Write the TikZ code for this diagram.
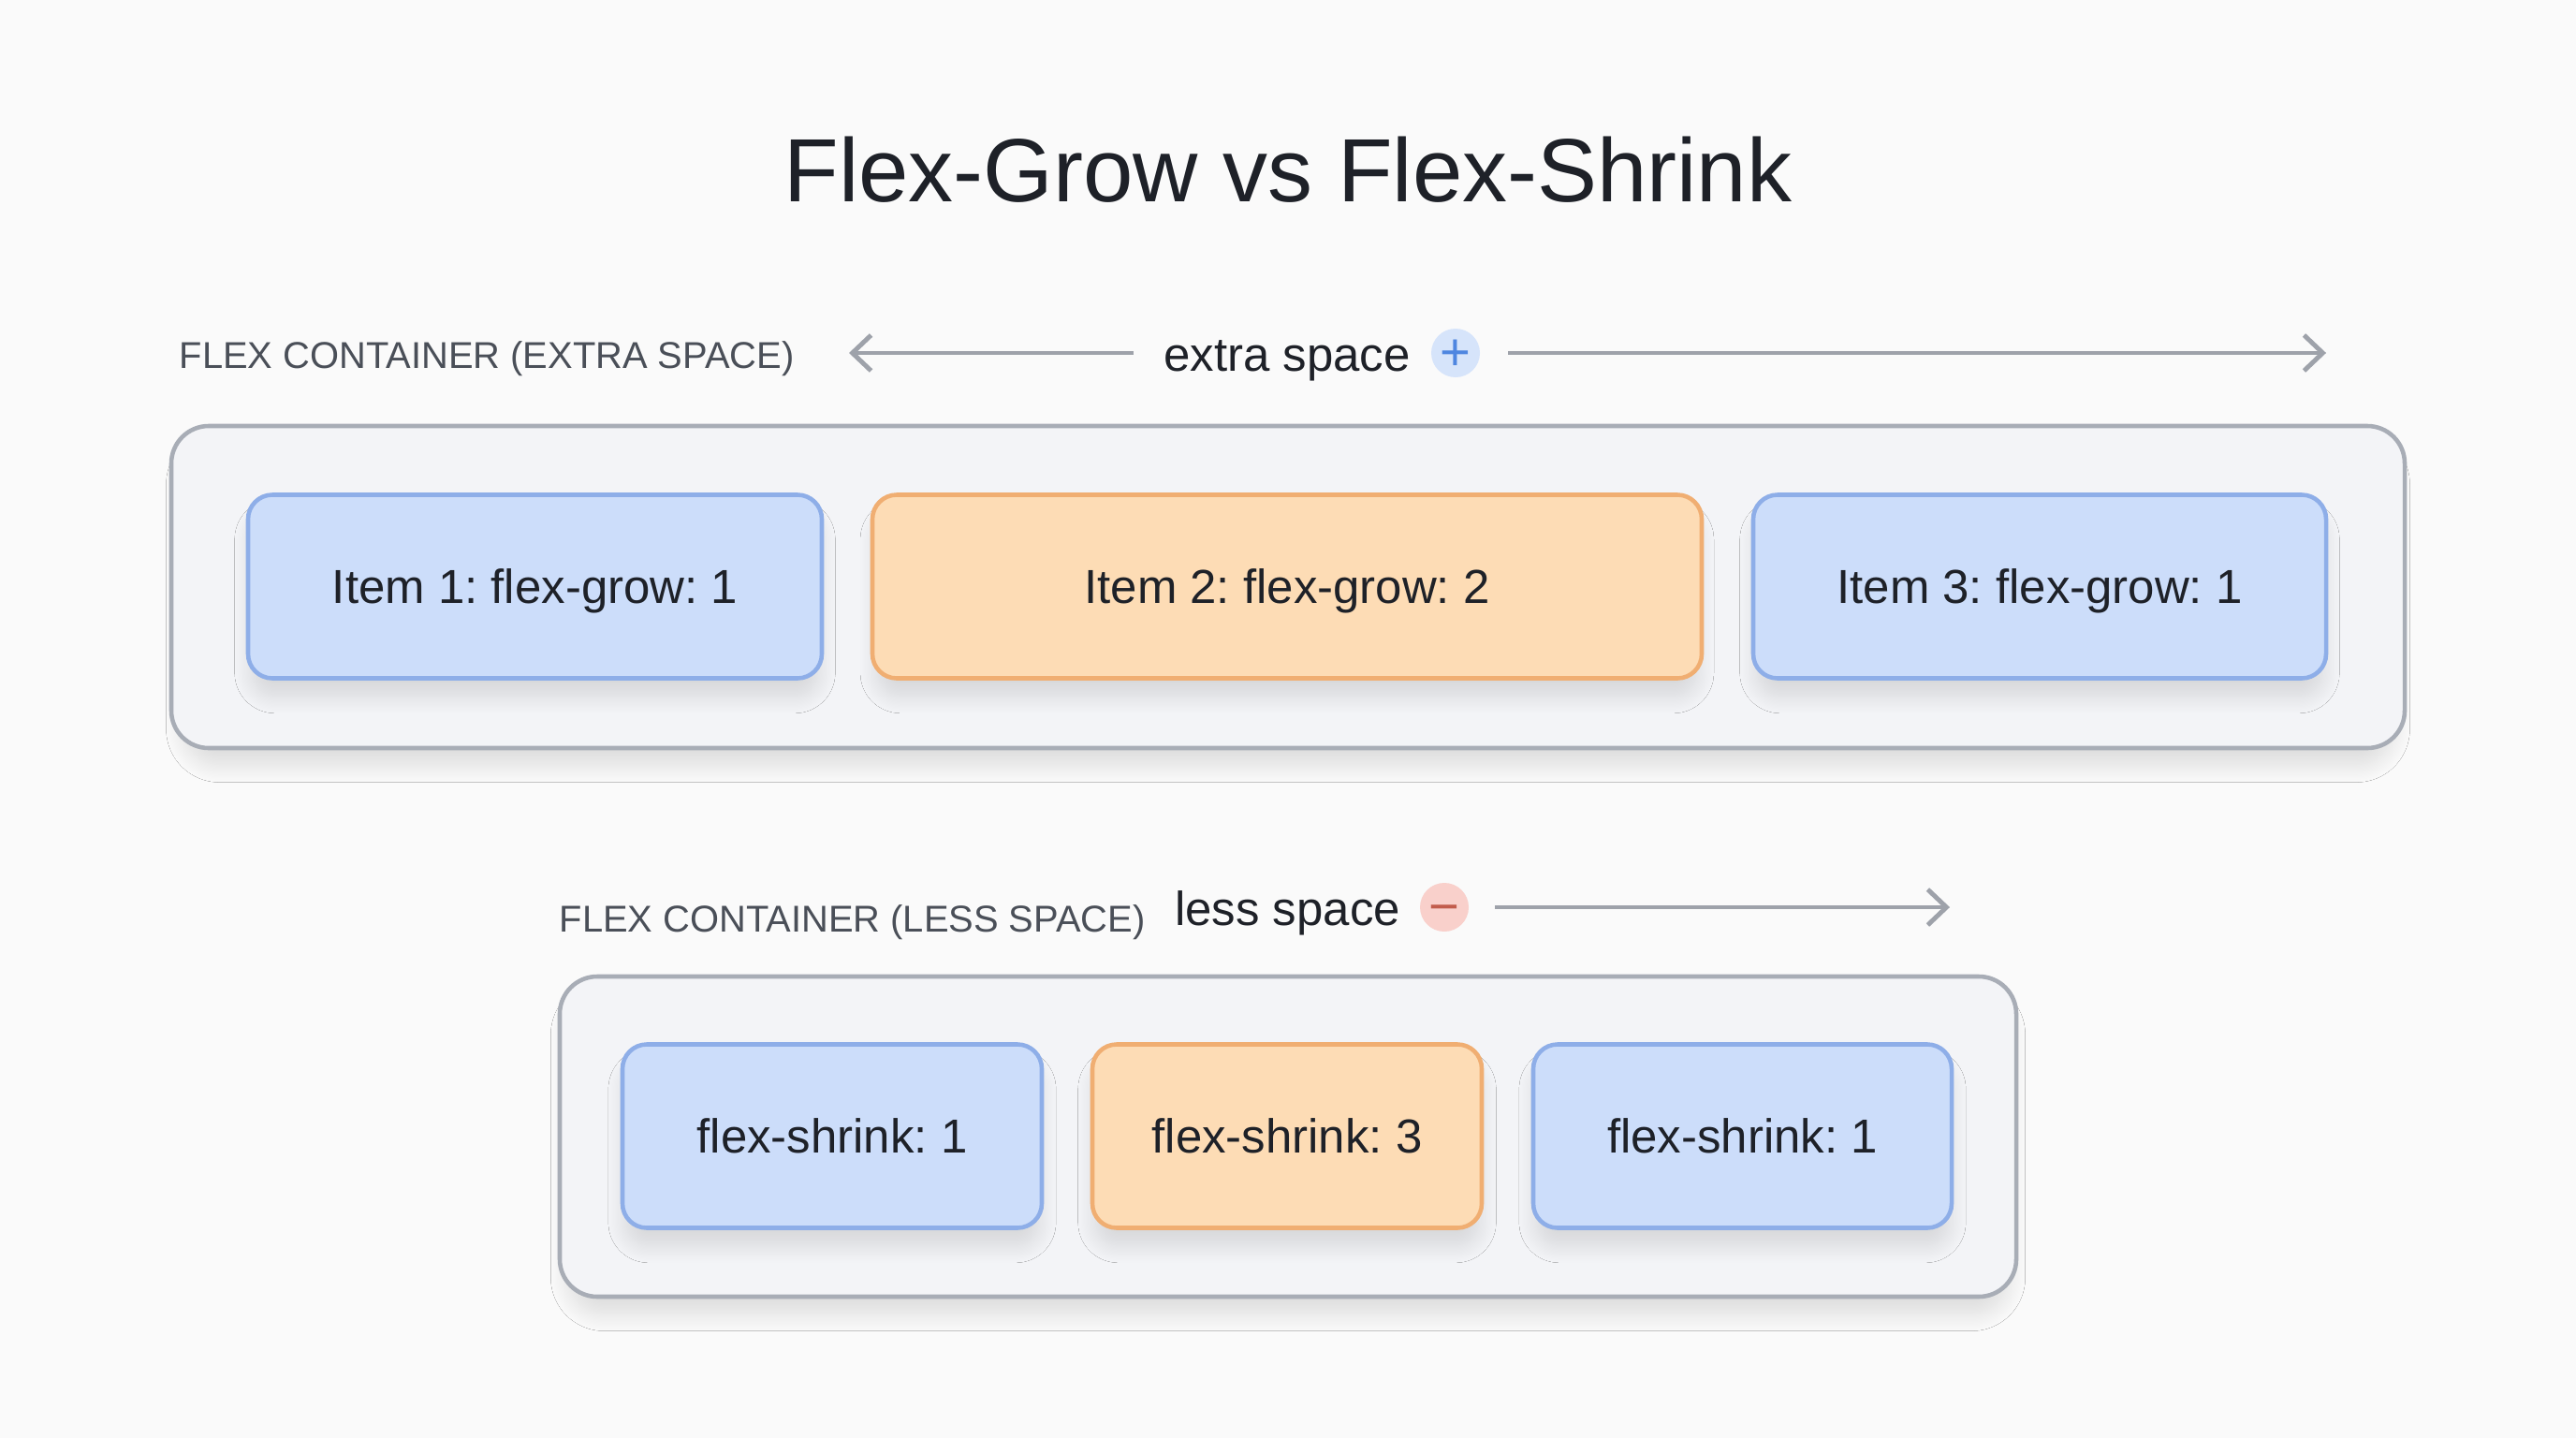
\documentclass[tikz,border=0pt]{standalone}
\usepackage{fontspec}
\setmainfont{Liberation Sans}
\usetikzlibrary{arrows.meta, positioning, shadows.blur}
\frenchspacing

\definecolor{bgcol}{HTML}{FAFAFA}
\definecolor{boxfill}{HTML}{F3F4F7}
\definecolor{boxdraw}{HTML}{A8ADB6}
\definecolor{itemblue}{HTML}{CCDDFA}
\definecolor{itembluedraw}{HTML}{8EAEE8}
\definecolor{itemorange}{HTML}{FDDCB5}
\definecolor{itemorangedraw}{HTML}{F0AE72}
\definecolor{arrowgray}{HTML}{9EA2AA}
\definecolor{labelgray}{HTML}{4A4F58}
\definecolor{textdark}{HTML}{1E2128}
\definecolor{plusfill}{HTML}{D6E4FA}
\definecolor{plusmark}{HTML}{4F86E0}
\definecolor{minusfill}{HTML}{F9D0CB}
\definecolor{minusmark}{HTML}{C25C4C}

\tikzset{
    softshadow/.style={
        blur shadow={shadow xshift=0pt, shadow yshift=-6pt, shadow scale=0.99, shadow blur radius=5pt, shadow blur steps=14, shadow opacity=11}
    },
    container/.style={
        rectangle, rounded corners=0.4cm, draw=boxdraw, line width=1.3pt,
        fill=boxfill, softshadow
    },
    flexitem/.style={
        rectangle, rounded corners=0.26cm, line width=1.3pt,
        minimum height=1.96cm, text=textdark, text height=10.4pt, text depth=0pt,
        font=\fontsize{14.5}{18}\selectfont, softshadow
    },
    growitem/.style={flexitem, fill=itemblue, draw=itembluedraw},
    bigitem/.style={flexitem, fill=itemorange, draw=itemorangedraw},
    boxlabel/.style={anchor=west, inner sep=0pt, text=labelgray, font=\fontsize{11.35}{14}\selectfont},
    spacelabel/.style={text=textdark, text height=10.4pt, text depth=0pt, font=\fontsize{14.5}{18}\selectfont},
    sign/.style={circle, minimum size=0.52cm, inner sep=0pt, text height=10.8pt, text depth=0pt, font=\fontsize{16}{16}\selectfont},
    spacearrow/.style={draw=arrowgray, line width=1.4pt, -{Straight Barb[length=0.2cm, width=0.38cm, line width=1.4pt]}}
}

\begin{document}
\begin{tikzpicture}

\useasboundingbox (0,0) rectangle (27.52,-15.36);
\fill[bgcol] (0,0) rectangle (27.52,-15.36);

% Title
\node[text=textdark, font=\fontsize{27.3}{33}\selectfont] (title) at (13.76,-1.81) {Flex-Grow vs Flex-Shrink};

% Extra space
\node[boxlabel] (growlabel) at (1.91,-3.83) {FLEX CONTAINER (EXTRA SPACE)};
\node[spacelabel] (extra) at (13.75,-3.78) {extra space};
\node[sign, fill=plusfill, text=plusmark] (plus) at (15.55,-3.77) {+};
\coordinate (growleftstart) at (12.11,-3.77);
\coordinate (growleft) at (9.07,-3.77);
\coordinate (growrightstart) at (16.11,-3.77);
\coordinate (growright) at (24.85,-3.77);
\draw[spacearrow] (growleftstart) -- (growleft);
\draw[spacearrow] (growrightstart) -- (growright);

\node[container, minimum width=23.86cm, minimum height=3.44cm] (growbox) at (13.76,-6.27) {};
\node[growitem, minimum width=6.13cm] (grow1) at (5.715,-6.265) {Item 1: flex-grow: 1};
\node[bigitem, minimum width=8.86cm] (grow2) at (13.75,-6.265) {Item 2: flex-grow: 2};
\node[growitem, minimum width=6.12cm] (grow3) at (21.79,-6.265) {Item 3: flex-grow: 1};

% Less space
\node[boxlabel] (shrinklabel) at (5.97,-9.85) {FLEX CONTAINER (LESS SPACE)};
\node[spacelabel] (less) at (13.755,-9.70) {less space};
\node[sign, fill=minusfill, text=minusmark] (minus) at (15.43,-9.69) {−};
\coordinate (shrinkstart) at (15.97,-9.69);
\coordinate (shrinkright) at (20.83,-9.69);
\draw[spacearrow] (shrinkstart) -- (shrinkright);

\node[container, minimum width=15.56cm, minimum height=3.42cm] (shrinkbox) at (13.76,-12.14) {};
\node[growitem, minimum width=4.48cm] (shrink1) at (8.89,-12.135) {flex-shrink: 1};
\node[bigitem, minimum width=4.16cm] (shrink2) at (13.75,-12.135) {flex-shrink: 3};
\node[growitem, minimum width=4.47cm] (shrink3) at (18.615,-12.135) {flex-shrink: 1};

\end{tikzpicture}
\end{document}
